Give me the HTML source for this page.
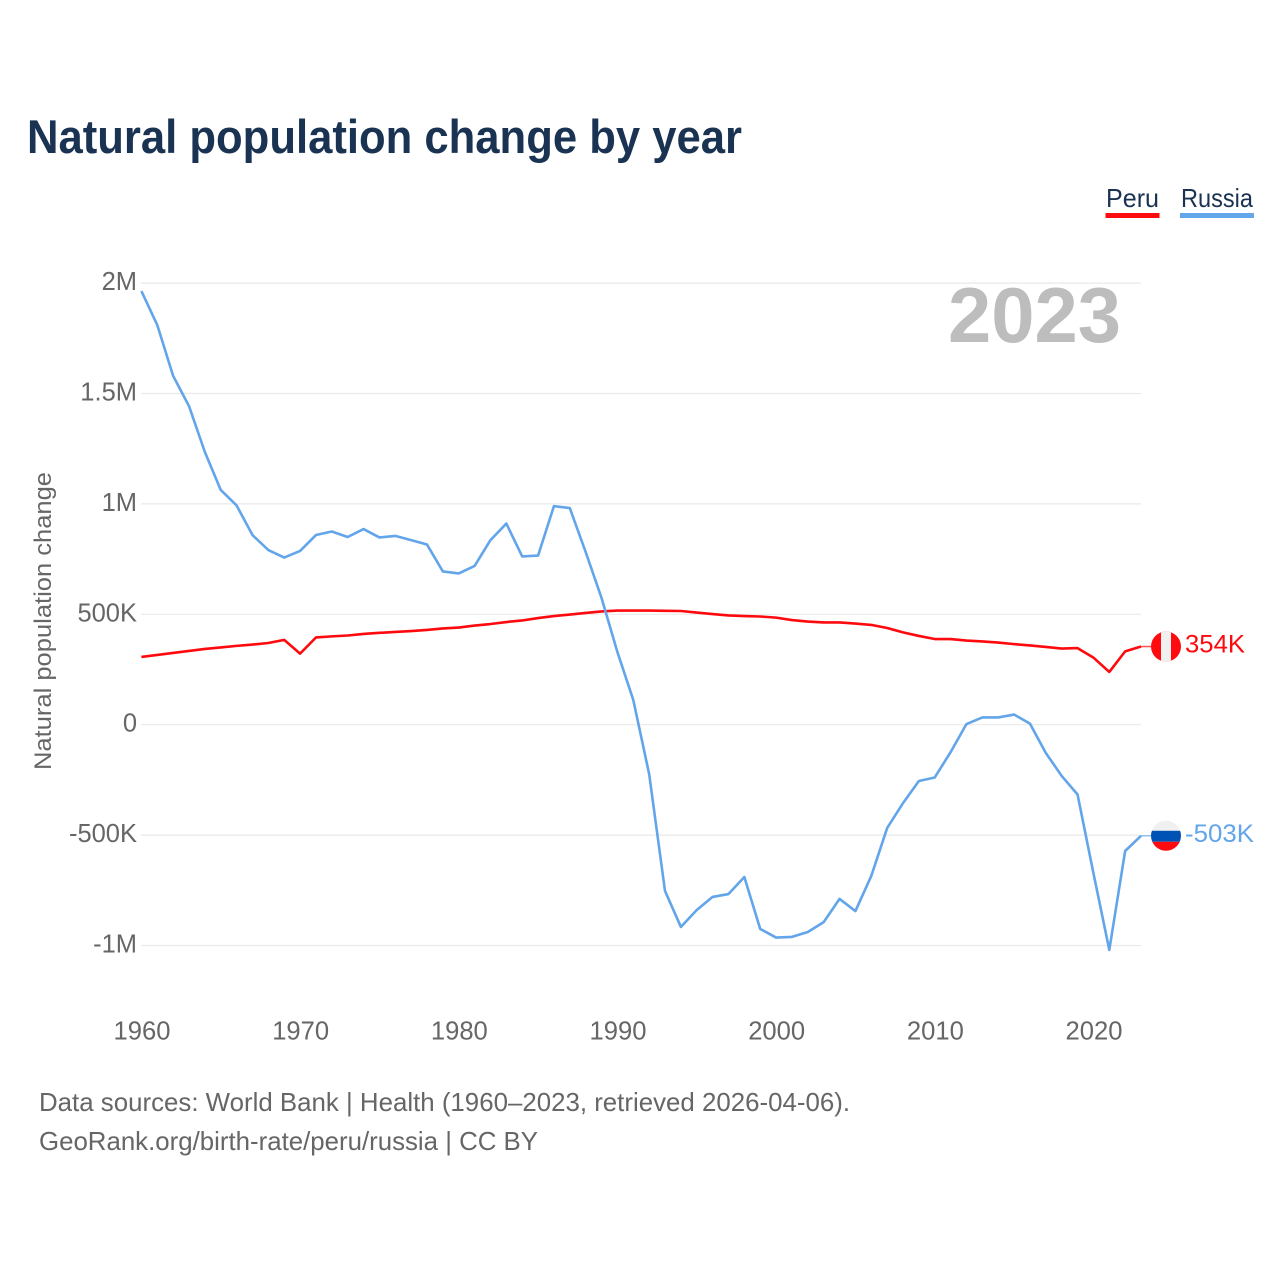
<!DOCTYPE html>
<html lang="en">
<head>
<meta charset="utf-8">
<title>Natural population change by year</title>
<style>
html,body{margin:0;padding:0;background:#fff;}
svg{display:block;font-family:"Liberation Sans",sans-serif;}
</style>
</head>
<body>
<svg id="chart" xmlns="http://www.w3.org/2000/svg" width="1280" height="1280" viewBox="0 0 1280 1280">
  <rect x="0" y="0" width="1280" height="1280" fill="#ffffff"/>
  <text x="27" y="153" font-size="47" font-weight="700" fill="#1a3353" textLength="715" lengthAdjust="spacingAndGlyphs">Natural population change by year</text>
  <g>
    <text x="1106" y="207" font-size="26" fill="#1a3353" textLength="53" lengthAdjust="spacingAndGlyphs">Peru</text>
    <rect x="1105.500" y="213" width="54" height="5" fill="#ff0a0e"/>
    <text x="1181" y="207" font-size="26" fill="#1a3353" textLength="72" lengthAdjust="spacingAndGlyphs">Russia</text>
    <rect x="1180" y="213" width="74" height="5" fill="#64a6ea"/>
  </g>
  <g id="grid"></g>
  <text x="948" y="342" font-size="78" font-weight="700" fill="#bdbdbd" textLength="173" lengthAdjust="spacingAndGlyphs">2023</text>
  <g id="yticks"></g>
  <g id="xticks"></g>
  <text transform="translate(51 621) rotate(-90)" text-anchor="middle" font-size="24" fill="#666666" textLength="298" lengthAdjust="spacingAndGlyphs">Natural population change</text>
  <g id="series"></g>
  <g id="ends"></g>
  <text x="39" y="1111" font-size="26" fill="#666666" textLength="811" lengthAdjust="spacingAndGlyphs">Data sources: World Bank | Health (1960–2023, retrieved 2026-04-06).</text>
  <text x="39" y="1150" font-size="26" fill="#666666" textLength="499" lengthAdjust="spacingAndGlyphs">GeoRank.org/birth-rate/peru/russia | CC BY</text>
</svg>
<script>
const startYear = 1960;
const xTickYears = [1960, 1970, 1980, 1990, 2000, 2010, 2020];
const yTickValues = [2000000, 1500000, 1000000, 500000, 0, -500000, -1000000];
const yTickLabels = ["2M", "1.5M", "1M", "500K", "0", "-500K", "-1M"];
const peruValues = [307000,316000,325000,334000,343000,350000,357000,363000,370000,384000,
  322000,395000,400000,404000,411000,416000,420000,424000,429000,436000,
  440000,449000,456000,465000,472000,483000,492000,499000,506000,513000,
  517000,517000,517000,516000,515000,508000,501000,495000,492000,490000,
  485000,474000,467000,463000,463000,458000,452000,438000,418000,402000,
  388000,388000,381000,377000,372000,365000,359000,352000,345000,347000,
  304000,239000,332000,354000];
const russiaValues = [1964000,1810000,1580000,1443000,1235000,1063000,993000,859000,791000,757000,
  787000,859000,875000,850000,886000,848000,855000,836000,816000,694000,
  685000,719000,836000,911000,762000,766000,990000,981000,782000,574000,
  329000,112000,-223000,-753000,-916000,-839000,-780000,-767000,-690000,-925000,
  -964000,-961000,-939000,-894000,-789000,-844000,-685000,-468000,-355000,-255000,
  -239000,-124000,3000,33000,33000,46000,5000,-128000,-232000,-316000,
  -672000,-1020000,-572000,-503000];
const peruEndLabel = "354K";
const russiaEndLabel = "-503K";

const SVG_NS = "http://www.w3.org/2000/svg";
const xAxis = year => 141.4 + (year - 1960) * 15.867;
const yAxis = value => 724.7 - value / 1000000 * 220.8;

function make(tag, attrs, parent) {
  const el = document.createElementNS(SVG_NS, tag);
  for (const k in attrs) el.setAttribute(k, attrs[k]);
  parent.appendChild(el);
  return el;
}

const gridG = document.getElementById("grid");
const yG = document.getElementById("yticks");
const xG = document.getElementById("xticks");
const seriesG = document.getElementById("series");
const endsG = document.getElementById("ends");
const rightEdge = xAxis(startYear + peruValues.length - 1);

yTickValues.forEach((v, i) => {
  const line = make("line", {x1: 141, x2: rightEdge, y1: yAxis(v), y2: yAxis(v), stroke: "#e9e9e9", "stroke-width": 1.2}, gridG);
  
  
  const t = make("text", {x: 137, y: yAxis(v) + 7, "text-anchor": "end", "font-size": 25.5, fill: "#666666"}, yG);
  
  
  t.textContent = yTickLabels[i];
});

xTickYears.forEach(y => {
  const t = make("text", {x: xAxis(y) + 0.6, y: 1039.5, "text-anchor": "middle", "font-size": 25.6, fill: "#666666"}, xG);
  
  
  t.textContent = y;
});

function pointsOf(values) {
  return values.map((v, i) => xAxis(startYear + i).toFixed(2) + "," + yAxis(v).toFixed(2)).join(" ");
}

const peruLine = make("polyline", {points: pointsOf(peruValues), fill: "none", stroke: "#fe0a0e", "stroke-width": 2.6, "stroke-linejoin": "round"}, seriesG);



const russiaLine = make("polyline", {points: pointsOf(russiaValues), fill: "none", stroke: "#62a5ea", "stroke-width": 2.6, "stroke-linejoin": "round"}, seriesG);



const defs = make("defs", {}, endsG);
const cx = 1166, r = 15;

// Peru end marker
const peruY = yAxis(peruValues[peruValues.length - 1]);
const peruClip = make("clipPath", {id: "clip-peru"}, defs);
make("circle", {cx: cx, cy: peruY, r: r}, peruClip);
const peruLead = make("line", {x1: rightEdge, x2: cx - r, y1: peruY, y2: peruY, stroke: "#fe0a0e", "stroke-width": 1.5, opacity: 0.7}, endsG);


const peruFlag = make("g", {"clip-path": "url(#clip-peru)"}, endsG);


make("rect", {x: cx - r, y: peruY - r, width: 2 * r, height: 2 * r, fill: "#ff0a0e"}, peruFlag);
make("rect", {x: cx - 5, y: peruY - r, width: 10, height: 2 * r, fill: "#f0f0f0"}, peruFlag);
const peruText = make("text", {x: 1185, y: peruY + 6, "font-size": 25, fill: "#fe0a0e", textLength: 60, lengthAdjust: "spacingAndGlyphs"}, endsG);


peruText.textContent = peruEndLabel;

// Russia end marker
const russiaY = yAxis(russiaValues[russiaValues.length - 1]);
const russiaClip = make("clipPath", {id: "clip-russia"}, defs);
make("circle", {cx: cx, cy: russiaY, r: r}, russiaClip);
const russiaLead = make("line", {x1: rightEdge, x2: cx - r, y1: russiaY, y2: russiaY, stroke: "#62a5ea", "stroke-width": 1.5, opacity: 0.7}, endsG);


const russiaFlag = make("g", {"clip-path": "url(#clip-russia)"}, endsG);


make("rect", {x: cx - r, y: russiaY - r, width: 2 * r, height: 10, fill: "#f0f0f0"}, russiaFlag);
make("rect", {x: cx - r, y: russiaY - 5, width: 2 * r, height: 11, fill: "#0052b4"}, russiaFlag);
make("rect", {x: cx - r, y: russiaY + 6, width: 2 * r, height: 10, fill: "#ff0a0e"}, russiaFlag);
const russiaText = make("text", {x: 1185, y: russiaY + 6, "font-size": 25, fill: "#62a5ea", textLength: 69, lengthAdjust: "spacingAndGlyphs"}, endsG);


russiaText.textContent = russiaEndLabel;
</script>
</body>
</html>
